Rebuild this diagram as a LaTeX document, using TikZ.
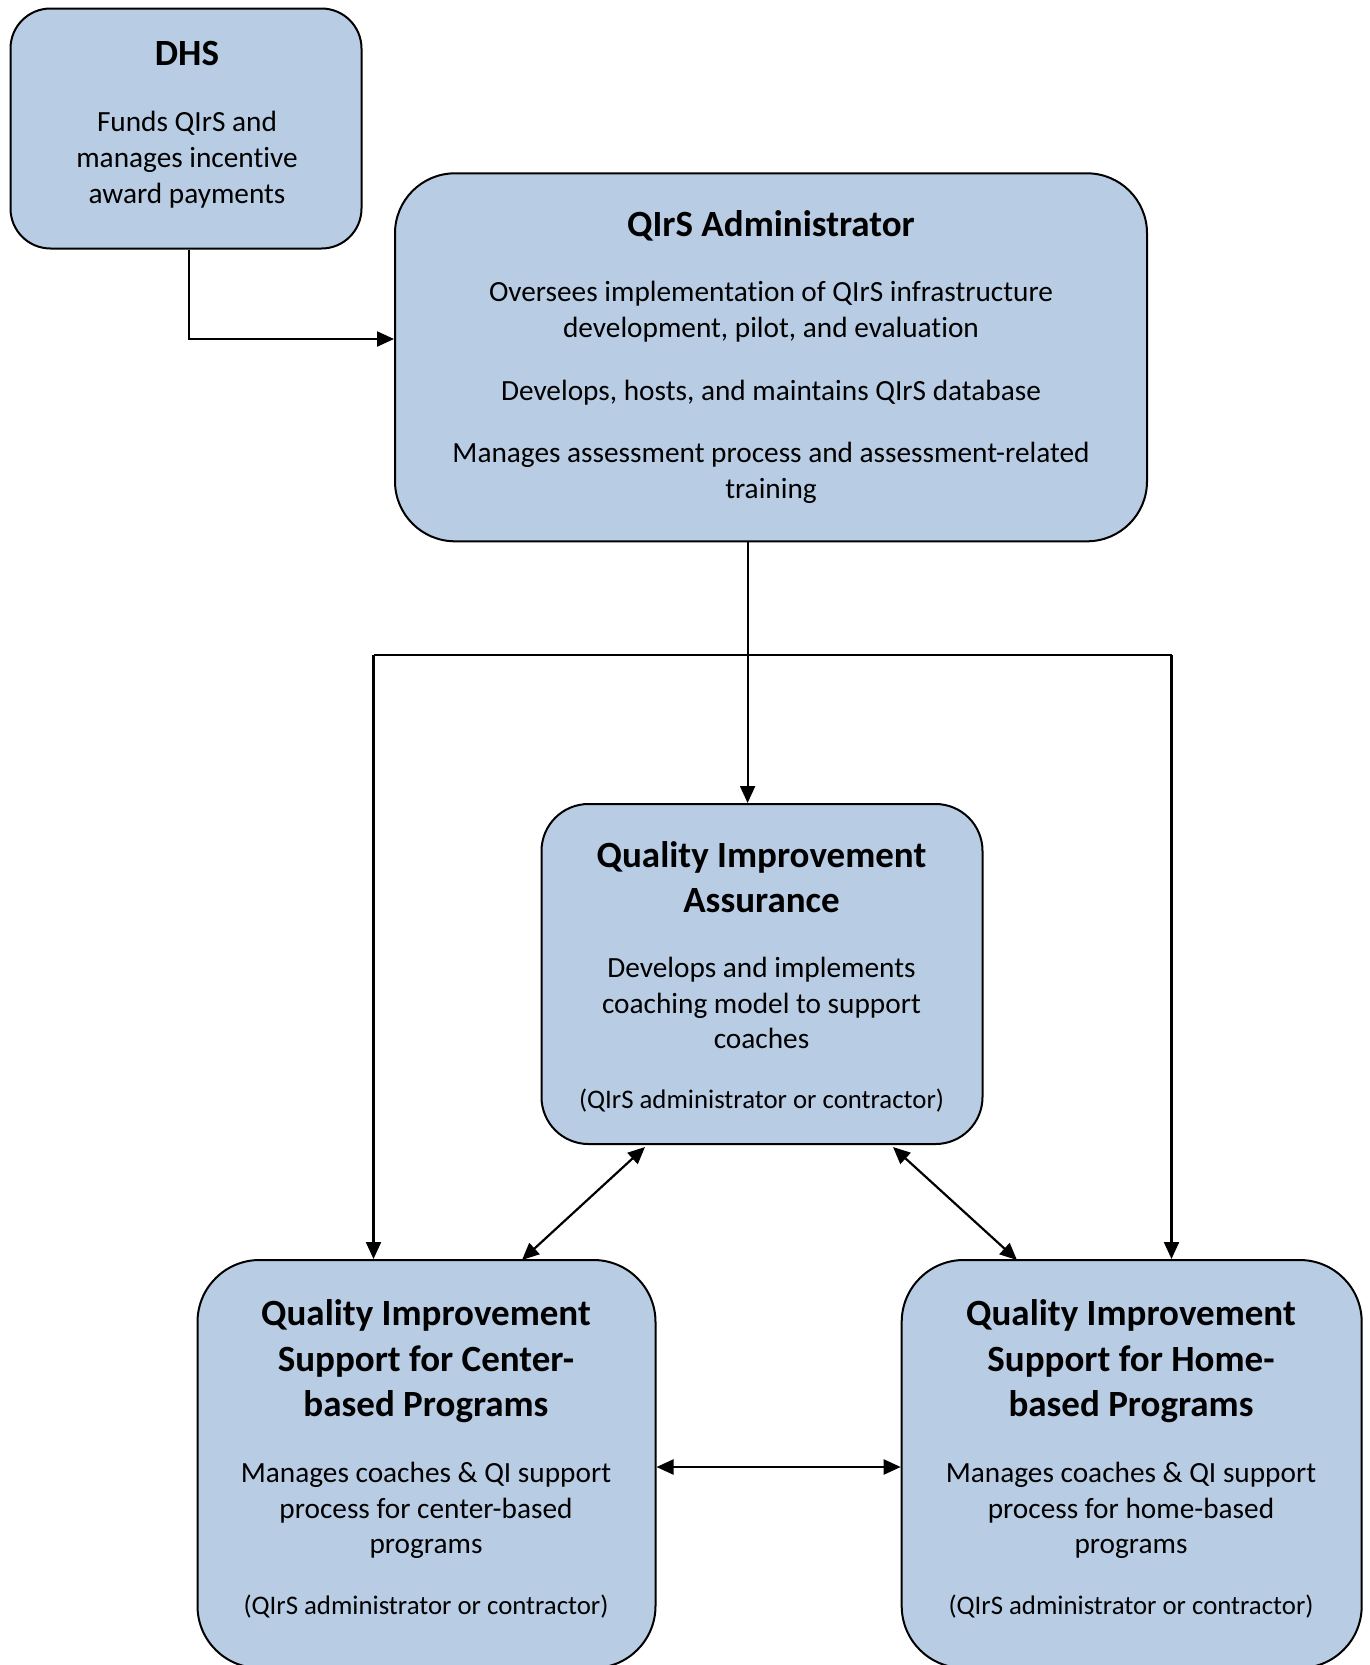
\documentclass[tikz,border=0pt]{standalone}
\usepackage{fontspec}
\setmainfont[Ligatures=CommonOff]{Carlito}
\usetikzlibrary{arrows.meta}
\definecolor{boxfill}{RGB}{184,204,228}
\tikzset{
  x=1pt, y=-1pt,
  box/.style={draw=black, line width=2pt, fill=boxfill, inner sep=0pt},
  ttl/.style={font=\fontsize{37}{45.5}\selectfont\bfseries, align=center, inner sep=0pt},
  txt/.style={font=\fontsize{29.3}{35.8}\selectfont, align=center, inner sep=0pt},
  ptxt/.style={font=\fontsize{26.8}{33}\selectfont, align=center, inner sep=0pt},
  conn/.style={line width=2.2pt, draw=black},
  arr/.style={conn, -{Triangle[length=17pt,width=15pt]}},
  dblarr/.style={conn, {Triangle[length=17pt,width=15pt]}-{Triangle[length=17pt,width=15pt]}},
}
\begin{document}
\begin{tikzpicture}
\useasboundingbox (0,0) rectangle (1370,1665);
\begin{scope}
\clip (0,0) rectangle (1370,1665);
% boxes
\node[box, minimum width=351pt, minimum height=240pt, rounded corners=40pt] (dhs) at (186,128.5) {};
\node[box, minimum width=752pt, minimum height=368pt, rounded corners=60pt] (admin) at (771,357.3) {};
\node[box, minimum width=441pt, minimum height=340pt, rounded corners=47pt] (qia) at (762,974) {};
\node[box, minimum width=458pt, minimum height=408pt, rounded corners=62pt] (cbp) at (426.5,1464) {};
\node[box, minimum width=460pt, minimum height=408pt, rounded corners=62pt] (hbp) at (1131.7,1464) {};
\end{scope}
% texts
\node[ttl] (dhsT) at (187,53) {DHS};
\node[txt] (dhsB) at (187,159.5) {Funds QIrS and\\manages incentive\\award payments};
\node[ttl] (adminT) at (771,226) {QIrS Administrator};
\node[txt] (adminB1) at (771,312) {Oversees implementation of QIrS infrastructure\\development, pilot, and evaluation};
\node[txt] (adminB2) at (771,393) {Develops, hosts, and maintains QIrS database};
\node[txt] (adminB3) at (771,473) {Manages assessment process and assessment-related\\training};
\node[ttl] (qiaT) at (761.5,877) {Quality Improvement\\Assurance};
\node[txt] (qiaB) at (761.5,1003) {Develops and implements\\coaching model to support\\coaches};
\node[ptxt] (qiaP) at (761.5,1101) {(QIrS administrator or contractor)};
\node[ttl] (cbpT) at (426,1361.5) {Quality Improvement\\Support for Center-\\based Programs};
\node[txt] (cbpB) at (426,1510.5) {Manages coaches \& QI support\\process for center-based\\programs};
\node[ptxt] (cbpP) at (426,1607) {(QIrS administrator or contractor)};
\node[ttl] (hbpT) at (1131,1361.5) {Quality Improvement\\Support for Home-\\based Programs};
\node[txt] (hbpB) at (1131,1510.5) {Manages coaches \& QI support\\process for home-based\\programs};
\node[ptxt] (hbpP) at (1131,1607) {(QIrS administrator or contractor)};
% junction coordinates
\coordinate (k) at (189,339);
\coordinate (j) at (747.6,655);
\coordinate (jl) at (373.5,655);
\coordinate (jr) at (1171.5,655);
\coordinate (d1) at (645,1147);
\coordinate (d2) at (522,1260);
\coordinate (d3) at (893,1147);
\coordinate (d4) at (1017,1260);
\coordinate (h) at (655,1467);
% connectors
\draw[arr] (k |- dhs.south) -- (k) -- (k -| admin.west);
\draw[arr] (j |- admin.south) -- (j |- qia.north);
\draw[conn] (jl) -- (jr);
\draw[arr] (jl) -- (jl |- cbp.north);
\draw[arr] (jr) -- (jr |- hbp.north);
\draw[dblarr] (d1) -- (d2);
\draw[dblarr] (d3) -- (d4);
\draw[dblarr] (cbp.east |- h) -- (hbp.west |- h);
\end{tikzpicture}
\end{document}
